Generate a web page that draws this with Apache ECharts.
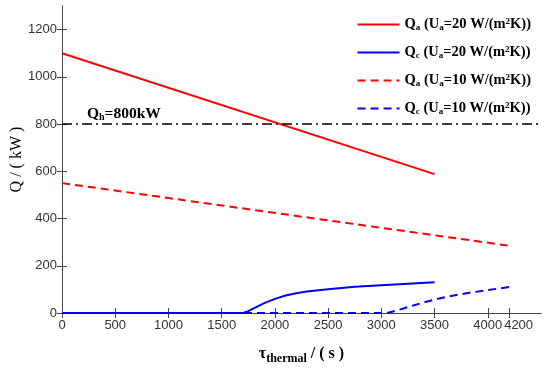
<!DOCTYPE html>
<html><head><meta charset="utf-8">
<script src="https://cdn.jsdelivr.net/npm/echarts@6/dist/echarts.min.js"></script>
<style>html,body{margin:0;padding:0;background:#fff}#c{width:550px;height:368px}</style>
</head><body><div id="c"></div>
<script>
const xTicks = [0,500,1000,1500,2000,2500,3000,3500,4000,4200];
const yTicks = [0,200,400,600,800,1000,1200];
const qa20T = [0,3500];
const qa20V = [1100,588];
const qc20T = [0,1700,1750,1800,1900,2000,2100,2200,2300,2500,2750,3000,3250,3500];
const qc20V = [0,0,8,20,42,60,74,84,91,101,111,118,124,130];
const qa10T = [0,4200];
const qa10V = [550,285];
const qc10T = [0,3050,3100,3200,3300,3400,3500,3600,3800,4000,4200];
const qc10V = [0,0,5,18,32,45,57,67,84,97,110];
const qhValue = 800;
const seriesNames = ['Qa20','Qc20','Qa10','Qc10'];
const legendSub = {Qa20:['a','20'],Qc20:['c','20'],Qa10:['a','10'],Qc10:['c','10']};

const pair = (t,v)=>t.map((x,i)=>[x,v[i]]);
const serif = 'Liberation Serif';
const sans = 'Liberation Sans';
const axisCol = '#444';

const chart = echarts.init(document.getElementById('c'));
const mk = (name,t,v,color,type)=>({
  name, type:'line', data:pair(t,v), showSymbol:false, symbol:'none', smooth:false,
  lineStyle:{color, width:2, type}, itemStyle:{color}, xAxisIndex:0, yAxisIndex:0
});
chart.setOption({
  animation:false,
  grid:{left:62, right:9, top:6, bottom:55, containLabel:false, outerBoundsMode:'none'},
  legend:{
    data:seriesNames, orient:'vertical', right:14, top:12, itemGap:13,
    itemWidth:42, itemHeight:14, itemStyle:{opacity:0},
    formatter:n=>{const s=legendSub[n];return `{n|Q}{s|${s[0]}}{n| (U}{s|a}{n|=${s[1]} W/(m}{p|2}{n|K))}`;},
    textStyle:{fontFamily:serif, fontSize:14, fontWeight:'bold', color:'#000',
      rich:{n:{fontFamily:serif,fontSize:14.5,fontWeight:'bold',color:'#000'},
            s:{fontFamily:serif,fontSize:9,fontWeight:'bold',color:'#000',verticalAlign:'bottom',padding:[6,0,0,0]},
            p:{fontFamily:serif,fontSize:9,fontWeight:'bold',color:'#000',verticalAlign:'top',padding:[0,0,6,0]}}}
  },
  xAxis:[{
    type:'value', min:0, max:4500, position:'bottom',
    name:'{t|τ}{b|thermal}{t| / ( s )}', nameLocation:'middle', nameGap:30,
    nameTextStyle:{rich:{t:{fontFamily:serif,fontSize:16,fontWeight:'bold',color:'#000'},
      b:{fontFamily:serif,fontSize:12,fontWeight:'bold',color:'#000',verticalAlign:'bottom',padding:[10,0,0,0]}}},
    axisLine:{lineStyle:{color:axisCol}}, splitLine:{show:false},
    axisTick:{inside:true, length:5, customValues:xTicks, lineStyle:{color:axisCol}},
    axisLabel:{customValues:xTicks, hideOverlap:false,
      formatter:v=>v===4200?'{r|'+v+'}':String(v),
      rich:{r:{color:'#333', fontFamily:sans, fontSize:13, width:48, align:'right'}},
      color:'#333', fontFamily:sans, fontSize:13, margin:6}
  },{
    type:'value', min:0, max:4500, position:'top',
    axisLine:{lineStyle:{color:axisCol}}, splitLine:{show:false},
    axisTick:{inside:true, length:5, customValues:xTicks, lineStyle:{color:axisCol}},
    axisLabel:{show:false}
  }],
  yAxis:[{
    type:'value', min:0, max:1300, position:'left',
    name:'Q / ( kW )', nameLocation:'middle', nameGap:37, nameMoveOverlap:false,
    nameTextStyle:{fontFamily:serif, fontSize:16, color:'#000'},
    axisLine:{show:true, lineStyle:{color:axisCol}}, splitLine:{show:false},
    axisTick:{show:true, inside:true, length:5, customValues:yTicks, lineStyle:{color:axisCol}},
    axisLabel:{customValues:yTicks, formatter:v=>String(v), color:'#333', fontFamily:sans, fontSize:13, margin:5}
  },{
    type:'value', min:0, max:1300, position:'right',
    axisLine:{show:true, lineStyle:{color:axisCol}}, splitLine:{show:false},
    axisTick:{show:true, inside:true, length:5, customValues:yTicks, lineStyle:{color:axisCol}},
    axisLabel:{show:false}
  }],
  series:[
    mk('Qa20',qa20T,qa20V,'#ff0000','solid'),
    mk('Qc20',qc20T,qc20V,'#0000ff','solid'),
    mk('Qa10',qa10T,qa10V,'#ff0000',[8,5]),
    mk('Qc10',qc10T,qc10V,'#0000ff',[8,5]),
    {name:'Qh', type:'line', data:[], xAxisIndex:0, yAxisIndex:0,
     markLine:{silent:true, symbol:['none','none'],
       lineStyle:{color:'#000', width:1.5, type:[10,4,2,4]},
       label:{show:true, position:'insideStartTop', distance:[25,2],
         formatter:'{n|Q}{s|h}{n|=800kW}',
         rich:{n:{fontFamily:serif,fontSize:15.5,fontWeight:'bold',color:'#000'},
               s:{fontFamily:serif,fontSize:10,fontWeight:'bold',color:'#000',verticalAlign:'bottom',padding:[6,0,0,0]}}},
       data:[{yAxis:qhValue}]}}
  ]
});
</script></body></html>
